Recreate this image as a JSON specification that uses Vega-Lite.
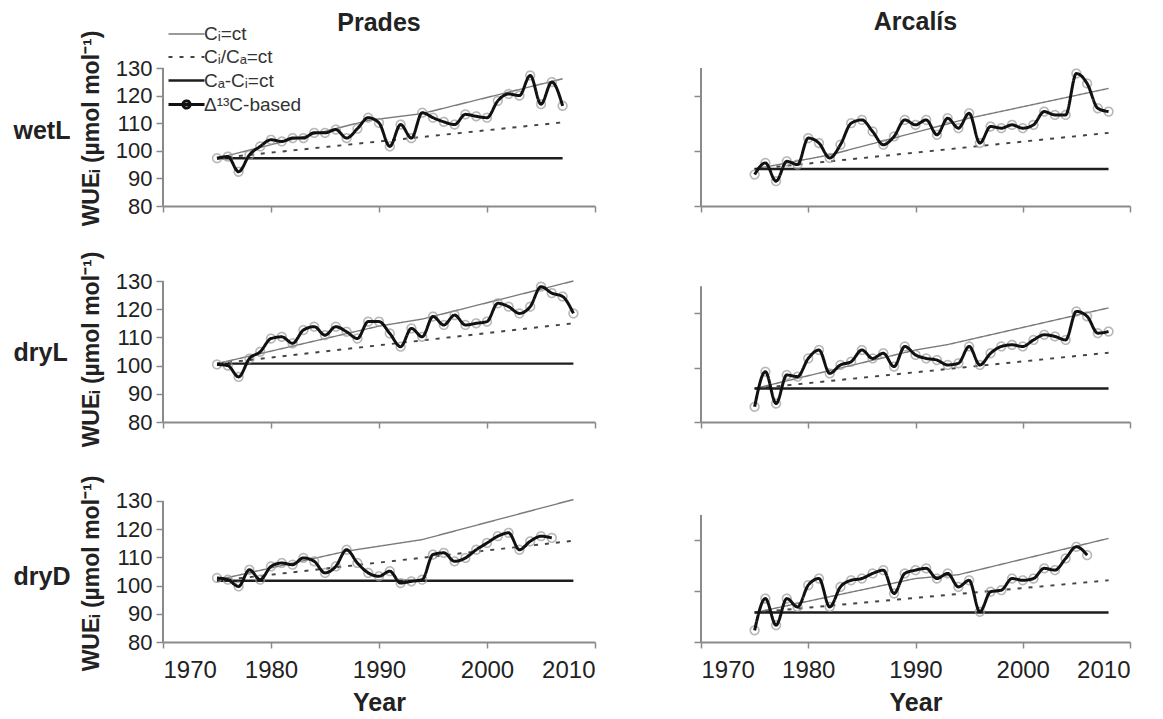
{
  "$schema": "https://vega.github.io/schema/vega-lite/v6.json",
  "background": "white",
  "padding": {"left": 13, "top": 9, "right": 2, "bottom": 2},
  "columns": 2,
  "bounds": "flush",
  "spacing": {"row": 75, "column": 106},
  "datasets": {
    "prades_wetL": [
      {"series": "Cᵢ=ct", "year": 1975, "wue": 97.3}, {"series": "Cᵢ=ct", "year": 1989, "wue": 111}, {"series": "Cᵢ=ct", "year": 1994, "wue": 113.5}, {"series": "Cᵢ=ct", "year": 2007, "wue": 126.1},
      {"series": "Cᵢ/Cₐ=ct", "year": 1975, "wue": 97.3}, {"series": "Cᵢ/Cₐ=ct", "year": 2007, "wue": 110.3},
      {"series": "Cₐ-Cᵢ=ct", "year": 1975, "wue": 97.3}, {"series": "Cₐ-Cᵢ=ct", "year": 2007, "wue": 97.3},
      {"series": "Δ¹³C-based", "year": 1975, "wue": 97.3}, {"series": "Δ¹³C-based", "year": 1976, "wue": 97.9}, {"series": "Δ¹³C-based", "year": 1977, "wue": 92.4}, {"series": "Δ¹³C-based", "year": 1978, "wue": 98.5},
      {"series": "Δ¹³C-based", "year": 1979, "wue": 101.6}, {"series": "Δ¹³C-based", "year": 1980, "wue": 104.0}, {"series": "Δ¹³C-based", "year": 1981, "wue": 103.4}, {"series": "Δ¹³C-based", "year": 1982, "wue": 104.6},
      {"series": "Δ¹³C-based", "year": 1983, "wue": 104.6}, {"series": "Δ¹³C-based", "year": 1984, "wue": 106.5}, {"series": "Δ¹³C-based", "year": 1985, "wue": 106.5}, {"series": "Δ¹³C-based", "year": 1986, "wue": 107.7},
      {"series": "Δ¹³C-based", "year": 1987, "wue": 104.6}, {"series": "Δ¹³C-based", "year": 1988, "wue": 108.0}, {"series": "Δ¹³C-based", "year": 1989, "wue": 112.0}, {"series": "Δ¹³C-based", "year": 1990, "wue": 110.1},
      {"series": "Δ¹³C-based", "year": 1991, "wue": 101.6}, {"series": "Δ¹³C-based", "year": 1992, "wue": 109.5}, {"series": "Δ¹³C-based", "year": 1993, "wue": 104.6}, {"series": "Δ¹³C-based", "year": 1994, "wue": 113.8},
      {"series": "Δ¹³C-based", "year": 1995, "wue": 112.0}, {"series": "Δ¹³C-based", "year": 1996, "wue": 110.5}, {"series": "Δ¹³C-based", "year": 1997, "wue": 109.5}, {"series": "Δ¹³C-based", "year": 1998, "wue": 113.2},
      {"series": "Δ¹³C-based", "year": 1999, "wue": 112.5}, {"series": "Δ¹³C-based", "year": 2000, "wue": 112.0}, {"series": "Δ¹³C-based", "year": 2001, "wue": 118.1}, {"series": "Δ¹³C-based", "year": 2002, "wue": 120.6},
      {"series": "Δ¹³C-based", "year": 2003, "wue": 120.0}, {"series": "Δ¹³C-based", "year": 2004, "wue": 127.3}, {"series": "Δ¹³C-based", "year": 2005, "wue": 116.9}, {"series": "Δ¹³C-based", "year": 2006, "wue": 124.9},
      {"series": "Δ¹³C-based", "year": 2007, "wue": 116.3}
    ],
    "arcalis_wetL": [
      {"series": "Cᵢ=ct", "year": 1975, "wue": 93.4}, {"series": "Cᵢ=ct", "year": 1982, "wue": 98.5}, {"series": "Cᵢ=ct", "year": 1995, "wue": 111.8}, {"series": "Cᵢ=ct", "year": 2008, "wue": 122.6},
      {"series": "Cᵢ/Cₐ=ct", "year": 1975, "wue": 93.4}, {"series": "Cᵢ/Cₐ=ct", "year": 2008, "wue": 106.5},
      {"series": "Cₐ-Cᵢ=ct", "year": 1975, "wue": 93.4}, {"series": "Cₐ-Cᵢ=ct", "year": 2008, "wue": 93.4},
      {"series": "Δ¹³C-based", "year": 1975, "wue": 91.4}, {"series": "Δ¹³C-based", "year": 1976, "wue": 95.6}, {"series": "Δ¹³C-based", "year": 1977, "wue": 89.0}, {"series": "Δ¹³C-based", "year": 1978, "wue": 96.2},
      {"series": "Δ¹³C-based", "year": 1979, "wue": 95.0}, {"series": "Δ¹³C-based", "year": 1980, "wue": 104.6}, {"series": "Δ¹³C-based", "year": 1981, "wue": 102.8}, {"series": "Δ¹³C-based", "year": 1982, "wue": 97.4},
      {"series": "Δ¹³C-based", "year": 1983, "wue": 102.2}, {"series": "Δ¹³C-based", "year": 1984, "wue": 110.0}, {"series": "Δ¹³C-based", "year": 1985, "wue": 111.2}, {"series": "Δ¹³C-based", "year": 1986, "wue": 107.0},
      {"series": "Δ¹³C-based", "year": 1987, "wue": 102.2}, {"series": "Δ¹³C-based", "year": 1988, "wue": 105.2}, {"series": "Δ¹³C-based", "year": 1989, "wue": 111.2}, {"series": "Δ¹³C-based", "year": 1990, "wue": 109.4},
      {"series": "Δ¹³C-based", "year": 1991, "wue": 111.2}, {"series": "Δ¹³C-based", "year": 1992, "wue": 105.8}, {"series": "Δ¹³C-based", "year": 1993, "wue": 111.8}, {"series": "Δ¹³C-based", "year": 1994, "wue": 108.2},
      {"series": "Δ¹³C-based", "year": 1995, "wue": 113.6}, {"series": "Δ¹³C-based", "year": 1996, "wue": 102.8}, {"series": "Δ¹³C-based", "year": 1997, "wue": 108.8}, {"series": "Δ¹³C-based", "year": 1998, "wue": 108.2},
      {"series": "Δ¹³C-based", "year": 1999, "wue": 109.4}, {"series": "Δ¹³C-based", "year": 2000, "wue": 108.2}, {"series": "Δ¹³C-based", "year": 2001, "wue": 109.4}, {"series": "Δ¹³C-based", "year": 2002, "wue": 114.2},
      {"series": "Δ¹³C-based", "year": 2003, "wue": 113.0}, {"series": "Δ¹³C-based", "year": 2004, "wue": 113.0}, {"series": "Δ¹³C-based", "year": 2005, "wue": 128.0}, {"series": "Δ¹³C-based", "year": 2006, "wue": 124.4},
      {"series": "Δ¹³C-based", "year": 2007, "wue": 115.4}, {"series": "Δ¹³C-based", "year": 2008, "wue": 114.2}
    ],
    "prades_dryL": [
      {"series": "Cᵢ=ct", "year": 1975, "wue": 100.7}, {"series": "Cᵢ=ct", "year": 1990, "wue": 114}, {"series": "Cᵢ=ct", "year": 1994, "wue": 116.5}, {"series": "Cᵢ=ct", "year": 2008, "wue": 130},
      {"series": "Cᵢ/Cₐ=ct", "year": 1975, "wue": 100.7}, {"series": "Cᵢ/Cₐ=ct", "year": 2008, "wue": 115},
      {"series": "Cₐ-Cᵢ=ct", "year": 1975, "wue": 100.7}, {"series": "Cₐ-Cᵢ=ct", "year": 2008, "wue": 100.7},
      {"series": "Δ¹³C-based", "year": 1975, "wue": 100.4}, {"series": "Δ¹³C-based", "year": 1976, "wue": 100.0}, {"series": "Δ¹³C-based", "year": 1977, "wue": 96.0}, {"series": "Δ¹³C-based", "year": 1978, "wue": 102.5},
      {"series": "Δ¹³C-based", "year": 1979, "wue": 104.9}, {"series": "Δ¹³C-based", "year": 1980, "wue": 109.6}, {"series": "Δ¹³C-based", "year": 1981, "wue": 110.2}, {"series": "Δ¹³C-based", "year": 1982, "wue": 107.9},
      {"series": "Δ¹³C-based", "year": 1983, "wue": 112.6}, {"series": "Δ¹³C-based", "year": 1984, "wue": 113.8}, {"series": "Δ¹³C-based", "year": 1985, "wue": 110.8}, {"series": "Δ¹³C-based", "year": 1986, "wue": 113.8},
      {"series": "Δ¹³C-based", "year": 1987, "wue": 112.0}, {"series": "Δ¹³C-based", "year": 1988, "wue": 109.6}, {"series": "Δ¹³C-based", "year": 1989, "wue": 115.6}, {"series": "Δ¹³C-based", "year": 1990, "wue": 115.6},
      {"series": "Δ¹³C-based", "year": 1991, "wue": 111.4}, {"series": "Δ¹³C-based", "year": 1992, "wue": 106.7}, {"series": "Δ¹³C-based", "year": 1993, "wue": 113.2}, {"series": "Δ¹³C-based", "year": 1994, "wue": 110.2},
      {"series": "Δ¹³C-based", "year": 1995, "wue": 117.4}, {"series": "Δ¹³C-based", "year": 1996, "wue": 114.4}, {"series": "Δ¹³C-based", "year": 1997, "wue": 117.9}, {"series": "Δ¹³C-based", "year": 1998, "wue": 114.4},
      {"series": "Δ¹³C-based", "year": 1999, "wue": 115.0}, {"series": "Δ¹³C-based", "year": 2000, "wue": 115.6}, {"series": "Δ¹³C-based", "year": 2001, "wue": 122.1}, {"series": "Δ¹³C-based", "year": 2002, "wue": 120.9},
      {"series": "Δ¹³C-based", "year": 2003, "wue": 118.5}, {"series": "Δ¹³C-based", "year": 2004, "wue": 120.9}, {"series": "Δ¹³C-based", "year": 2005, "wue": 128.0}, {"series": "Δ¹³C-based", "year": 2006, "wue": 125.7},
      {"series": "Δ¹³C-based", "year": 2007, "wue": 124.5}, {"series": "Δ¹³C-based", "year": 2008, "wue": 118.5}
    ],
    "arcalis_dryL": [
      {"series": "Cᵢ=ct", "year": 1975, "wue": 92.3}, {"series": "Cᵢ=ct", "year": 1990, "wue": 106.5}, {"series": "Cᵢ=ct", "year": 1993, "wue": 108.5}, {"series": "Cᵢ=ct", "year": 2008, "wue": 122},
      {"series": "Cᵢ/Cₐ=ct", "year": 1975, "wue": 92.3}, {"series": "Cᵢ/Cₐ=ct", "year": 2008, "wue": 105.5},
      {"series": "Cₐ-Cᵢ=ct", "year": 1975, "wue": 92.3}, {"series": "Cₐ-Cᵢ=ct", "year": 2008, "wue": 92.3},
      {"series": "Δ¹³C-based", "year": 1975, "wue": 85.6}, {"series": "Δ¹³C-based", "year": 1976, "wue": 98.5}, {"series": "Δ¹³C-based", "year": 1977, "wue": 86.8}, {"series": "Δ¹³C-based", "year": 1978, "wue": 97.3},
      {"series": "Δ¹³C-based", "year": 1979, "wue": 96.7}, {"series": "Δ¹³C-based", "year": 1980, "wue": 103.4}, {"series": "Δ¹³C-based", "year": 1981, "wue": 106.5}, {"series": "Δ¹³C-based", "year": 1982, "wue": 97.9},
      {"series": "Δ¹³C-based", "year": 1983, "wue": 101.0}, {"series": "Δ¹³C-based", "year": 1984, "wue": 102.2}, {"series": "Δ¹³C-based", "year": 1985, "wue": 106.5}, {"series": "Δ¹³C-based", "year": 1986, "wue": 103.4},
      {"series": "Δ¹³C-based", "year": 1987, "wue": 105.3}, {"series": "Δ¹³C-based", "year": 1988, "wue": 100.4}, {"series": "Δ¹³C-based", "year": 1989, "wue": 107.8}, {"series": "Δ¹³C-based", "year": 1990, "wue": 104.7},
      {"series": "Δ¹³C-based", "year": 1991, "wue": 103.4}, {"series": "Δ¹³C-based", "year": 1992, "wue": 102.8}, {"series": "Δ¹³C-based", "year": 1993, "wue": 101.0}, {"series": "Δ¹³C-based", "year": 1994, "wue": 101.6},
      {"series": "Δ¹³C-based", "year": 1995, "wue": 107.8}, {"series": "Δ¹³C-based", "year": 1996, "wue": 101.0}, {"series": "Δ¹³C-based", "year": 1997, "wue": 105.3}, {"series": "Δ¹³C-based", "year": 1998, "wue": 107.8},
      {"series": "Δ¹³C-based", "year": 1999, "wue": 108.4}, {"series": "Δ¹³C-based", "year": 2000, "wue": 107.8}, {"series": "Δ¹³C-based", "year": 2001, "wue": 110.2}, {"series": "Δ¹³C-based", "year": 2002, "wue": 112.1},
      {"series": "Δ¹³C-based", "year": 2003, "wue": 111.5}, {"series": "Δ¹³C-based", "year": 2004, "wue": 110.2}, {"series": "Δ¹³C-based", "year": 2005, "wue": 120.7}, {"series": "Δ¹³C-based", "year": 2006, "wue": 118.9},
      {"series": "Δ¹³C-based", "year": 2007, "wue": 112.7}, {"series": "Δ¹³C-based", "year": 2008, "wue": 113.3}
    ],
    "prades_dryD": [
      {"series": "Cᵢ=ct", "year": 1975, "wue": 102.0}, {"series": "Cᵢ=ct", "year": 1987, "wue": 112.2}, {"series": "Cᵢ=ct", "year": 1994, "wue": 116.3}, {"series": "Cᵢ=ct", "year": 2008, "wue": 130.5},
      {"series": "Cᵢ/Cₐ=ct", "year": 1975, "wue": 101.7}, {"series": "Cᵢ/Cₐ=ct", "year": 2008, "wue": 115.9},
      {"series": "Cₐ-Cᵢ=ct", "year": 1975, "wue": 101.7}, {"series": "Cₐ-Cᵢ=ct", "year": 2008, "wue": 101.7},
      {"series": "Δ¹³C-based", "year": 1975, "wue": 102.7}, {"series": "Δ¹³C-based", "year": 1976, "wue": 102.1}, {"series": "Δ¹³C-based", "year": 1977, "wue": 99.7}, {"series": "Δ¹³C-based", "year": 1978, "wue": 105.6},
      {"series": "Δ¹³C-based", "year": 1979, "wue": 102.1}, {"series": "Δ¹³C-based", "year": 1980, "wue": 106.8}, {"series": "Δ¹³C-based", "year": 1981, "wue": 108.0}, {"series": "Δ¹³C-based", "year": 1982, "wue": 107.4},
      {"series": "Δ¹³C-based", "year": 1983, "wue": 109.8}, {"series": "Δ¹³C-based", "year": 1984, "wue": 108.6}, {"series": "Δ¹³C-based", "year": 1985, "wue": 104.5}, {"series": "Δ¹³C-based", "year": 1986, "wue": 106.8},
      {"series": "Δ¹³C-based", "year": 1987, "wue": 112.7}, {"series": "Δ¹³C-based", "year": 1988, "wue": 108.0}, {"series": "Δ¹³C-based", "year": 1989, "wue": 104.5}, {"series": "Δ¹³C-based", "year": 1990, "wue": 103.3},
      {"series": "Δ¹³C-based", "year": 1991, "wue": 105.1}, {"series": "Δ¹³C-based", "year": 1992, "wue": 100.9}, {"series": "Δ¹³C-based", "year": 1993, "wue": 101.5}, {"series": "Δ¹³C-based", "year": 1994, "wue": 102.1},
      {"series": "Δ¹³C-based", "year": 1995, "wue": 111.0}, {"series": "Δ¹³C-based", "year": 1996, "wue": 111.6}, {"series": "Δ¹³C-based", "year": 1997, "wue": 108.6}, {"series": "Δ¹³C-based", "year": 1998, "wue": 109.8},
      {"series": "Δ¹³C-based", "year": 1999, "wue": 112.7}, {"series": "Δ¹³C-based", "year": 2000, "wue": 115.1}, {"series": "Δ¹³C-based", "year": 2001, "wue": 117.5}, {"series": "Δ¹³C-based", "year": 2002, "wue": 118.7},
      {"series": "Δ¹³C-based", "year": 2003, "wue": 112.7}, {"series": "Δ¹³C-based", "year": 2004, "wue": 115.7}, {"series": "Δ¹³C-based", "year": 2005, "wue": 117.5}, {"series": "Δ¹³C-based", "year": 2006, "wue": 116.9}
    ],
    "arcalis_dryD": [
      {"series": "Cᵢ=ct", "year": 1975, "wue": 91.6}, {"series": "Cᵢ=ct", "year": 1990, "wue": 105}, {"series": "Cᵢ=ct", "year": 1994, "wue": 106.5}, {"series": "Cᵢ=ct", "year": 2008, "wue": 120.8},
      {"series": "Cᵢ/Cₐ=ct", "year": 1975, "wue": 91.6}, {"series": "Cᵢ/Cₐ=ct", "year": 2008, "wue": 104.3},
      {"series": "Cₐ-Cᵢ=ct", "year": 1975, "wue": 91.6}, {"series": "Cₐ-Cᵢ=ct", "year": 2008, "wue": 91.6},
      {"series": "Δ¹³C-based", "year": 1975, "wue": 84.6}, {"series": "Δ¹³C-based", "year": 1976, "wue": 97.1}, {"series": "Δ¹³C-based", "year": 1977, "wue": 86.6}, {"series": "Δ¹³C-based", "year": 1978, "wue": 97.1},
      {"series": "Δ¹³C-based", "year": 1979, "wue": 93.8}, {"series": "Δ¹³C-based", "year": 1980, "wue": 102.4}, {"series": "Δ¹³C-based", "year": 1981, "wue": 105.0}, {"series": "Δ¹³C-based", "year": 1982, "wue": 93.8},
      {"series": "Δ¹³C-based", "year": 1983, "wue": 101.7}, {"series": "Δ¹³C-based", "year": 1984, "wue": 104.3}, {"series": "Δ¹³C-based", "year": 1985, "wue": 105.0}, {"series": "Δ¹³C-based", "year": 1986, "wue": 107.0},
      {"series": "Δ¹³C-based", "year": 1987, "wue": 108.3}, {"series": "Δ¹³C-based", "year": 1988, "wue": 99.1}, {"series": "Δ¹³C-based", "year": 1989, "wue": 107.0}, {"series": "Δ¹³C-based", "year": 1990, "wue": 108.3},
      {"series": "Δ¹³C-based", "year": 1991, "wue": 109.0}, {"series": "Δ¹³C-based", "year": 1992, "wue": 105.0}, {"series": "Δ¹³C-based", "year": 1993, "wue": 107.0}, {"series": "Δ¹³C-based", "year": 1994, "wue": 101.7},
      {"series": "Δ¹³C-based", "year": 1995, "wue": 104.3}, {"series": "Δ¹³C-based", "year": 1996, "wue": 91.9}, {"series": "Δ¹³C-based", "year": 1997, "wue": 99.8}, {"series": "Δ¹³C-based", "year": 1998, "wue": 100.4},
      {"series": "Δ¹³C-based", "year": 1999, "wue": 105.0}, {"series": "Δ¹³C-based", "year": 2000, "wue": 104.3}, {"series": "Δ¹³C-based", "year": 2001, "wue": 105.0}, {"series": "Δ¹³C-based", "year": 2002, "wue": 109.0},
      {"series": "Δ¹³C-based", "year": 2003, "wue": 108.3}, {"series": "Δ¹³C-based", "year": 2004, "wue": 112.9}, {"series": "Δ¹³C-based", "year": 2005, "wue": 117.5}, {"series": "Δ¹³C-based", "year": 2006, "wue": 114.2}
    ]
  },
  "concat": [
    {
      "width": 432, "height": 138,
      "title": {"text": "Prades", "frame": "group", "anchor": "middle", "offset": -12, "fontSize": 25, "fontWeight": "bold", "color": "#222"},
      "layer": [
        {
          "data": {"name": "prades_wetL"},
          "encoding": {
            "x": {"field": "year", "type": "quantitative", "scale": {"domain": [1970, 2010], "nice": false, "zero": false}, "axis": {"values": [1970, 1980, 1990, 2000, 2010], "labels": false, "title": null, "tickSize": 6}},
            "y": {"field": "wue", "type": "quantitative", "scale": {"domain": [80, 130], "nice": false, "zero": false}, "axis": {"values": [80, 90, 100, 110, 120, 130], "domain": false, "labelPadding": 4, "title": "WUEᵢ (µmol mol⁻¹)", "titleFontSize": 23, "titleFontWeight": "bold", "titleAngle": -90, "titleX": -60, "titleY": 60, "titleAlign": "center", "titleBaseline": "bottom"}},
            "color": {"field": "series", "type": "nominal", "scale": {"domain": ["Cᵢ=ct", "Cᵢ/Cₐ=ct", "Cₐ-Cᵢ=ct", "Δ¹³C-based"], "range": ["#7a7a7a", "#444444", "#1e1e1e", "#111111"]},
              "legend": {"orient": "none", "legendX": 4, "legendY": -44, "title": null, "labelFontSize": 19, "labelColor": "#333", "labelFont": "Liberation Sans", "symbolSize": 324, "symbolType": "M-1,0H3", "labelOffset": 16, "rowPadding": 3, "padding": 0,
                "encode": {"symbols": {"update": {"shape": {"signal": "datum.value === 'Δ¹³C-based' ? 'M-1,0H3M1.4,0A0.4,0.4 0 1,1 0.6,0A0.4,0.4 0 1,1 1.4,0' : 'M-1,0H3'"}}}}}},
            "strokeDash": {"field": "series", "type": "nominal", "scale": {"domain": ["Cᵢ=ct", "Cᵢ/Cₐ=ct", "Cₐ-Cᵢ=ct", "Δ¹³C-based"], "range": [[1, 0], [4, 7], [1, 0], [1, 0]]}},
            "strokeWidth": {"field": "series", "type": "nominal", "scale": {"domain": ["Cᵢ=ct", "Cᵢ/Cₐ=ct", "Cₐ-Cᵢ=ct", "Δ¹³C-based"], "range": [1.4, 3, 2.4, 3.5]}}
          },
          "layer": [
            {"transform": [{"filter": {"field": "series", "oneOf": ["Cᵢ=ct", "Cᵢ/Cₐ=ct", "Cₐ-Cᵢ=ct"]}}], "mark": {"type": "line"}},
            {"transform": [{"filter": {"field": "series", "equal": "Δ¹³C-based"}}], "mark": {"type": "point", "filled": false, "size": 75}, "encoding": {"color": {"value": "#9a9a9a"}, "strokeWidth": {"value": 1.6}, "strokeDash": {"value": [1, 0]}}},
            {"transform": [{"filter": {"field": "series", "equal": "Δ¹³C-based"}}], "mark": {"type": "line", "interpolate": "monotone"}}
          ]
        },
        {
          "data": {"values": [{}]},
          "mark": {"type": "rule", "color": "#8a8a8a", "strokeWidth": 2},
          "encoding": {
            "x": {"datum": 1970},
            "y": {"datum": 80, "scale": {"domain": [80, 130], "nice": false, "zero": false}, "axis": {"orient": "left", "labels": false, "ticks": false, "domain": false, "title": "wetL", "titleAngle": 0, "titleAlign": "left", "titleBaseline": "middle", "titleX": -150, "titleY": 62, "titleFontSize": 25, "titleFontWeight": "bold"}},
            "y2": {"datum": 130}
          }
        }
      ],
      "resolve": {"scale": {"y": "independent"}}
    },
    {
      "width": 429, "height": 138,
      "title": {"text": "Arcalís", "frame": "group", "anchor": "middle", "offset": 31, "fontSize": 25, "fontWeight": "bold", "color": "#222"},
      "layer": [
        {
          "data": {"name": "arcalis_wetL"},
          "encoding": {
            "x": {"field": "year", "type": "quantitative", "scale": {"domain": [1970, 2010], "nice": false, "zero": false}, "axis": {"values": [1970, 1980, 1990, 2000, 2010], "labels": false, "title": null, "tickSize": 6}},
            "y": {"field": "wue", "type": "quantitative", "scale": {"domain": [80, 130], "nice": false, "zero": false}, "axis": {"values": [80, 90, 100, 110, 120, 130], "domain": false, "labels": false, "title": null}},
            "color": {"field": "series", "type": "nominal", "scale": {"domain": ["Cᵢ=ct", "Cᵢ/Cₐ=ct", "Cₐ-Cᵢ=ct", "Δ¹³C-based"], "range": ["#7a7a7a", "#444444", "#1e1e1e", "#111111"]}, "legend": null},
            "strokeDash": {"field": "series", "type": "nominal", "scale": {"domain": ["Cᵢ=ct", "Cᵢ/Cₐ=ct", "Cₐ-Cᵢ=ct", "Δ¹³C-based"], "range": [[1, 0], [4, 7], [1, 0], [1, 0]]}, "legend": null},
            "strokeWidth": {"field": "series", "type": "nominal", "scale": {"domain": ["Cᵢ=ct", "Cᵢ/Cₐ=ct", "Cₐ-Cᵢ=ct", "Δ¹³C-based"], "range": [1.4, 3, 2.4, 3.5]}, "legend": null}
          },
          "layer": [
            {"transform": [{"filter": {"field": "series", "oneOf": ["Cᵢ=ct", "Cᵢ/Cₐ=ct", "Cₐ-Cᵢ=ct"]}}], "mark": {"type": "line"}},
            {"transform": [{"filter": {"field": "series", "equal": "Δ¹³C-based"}}], "mark": {"type": "point", "filled": false, "size": 75}, "encoding": {"color": {"value": "#9a9a9a"}, "strokeWidth": {"value": 1.6}, "strokeDash": {"value": [1, 0]}}},
            {"transform": [{"filter": {"field": "series", "equal": "Δ¹³C-based"}}], "mark": {"type": "line", "interpolate": "monotone"}}
          ]
        },
        {
          "data": {"values": [{}]},
          "mark": {"type": "rule", "color": "#8a8a8a", "strokeWidth": 2},
          "encoding": {"x": {"datum": 1970}, "y": {"datum": 80}, "y2": {"datum": 130}}
        }
      ]
    },
    {
      "width": 432, "height": 141,
      "layer": [
        {
          "data": {"name": "prades_dryL"},
          "encoding": {
            "x": {"field": "year", "type": "quantitative", "scale": {"domain": [1970, 2010], "nice": false, "zero": false}, "axis": {"values": [1970, 1980, 1990, 2000, 2010], "labels": false, "title": null, "tickSize": 6}},
            "y": {"field": "wue", "type": "quantitative", "scale": {"domain": [80, 130], "nice": false, "zero": false}, "axis": {"values": [80, 90, 100, 110, 120, 130], "domain": false, "labelPadding": 4, "title": "WUEᵢ (µmol mol⁻¹)", "titleFontSize": 23, "titleFontWeight": "bold", "titleAngle": -90, "titleX": -60, "titleY": 68, "titleAlign": "center", "titleBaseline": "bottom"}},
            "color": {"field": "series", "type": "nominal", "scale": {"domain": ["Cᵢ=ct", "Cᵢ/Cₐ=ct", "Cₐ-Cᵢ=ct", "Δ¹³C-based"], "range": ["#7a7a7a", "#444444", "#1e1e1e", "#111111"]}, "legend": null},
            "strokeDash": {"field": "series", "type": "nominal", "scale": {"domain": ["Cᵢ=ct", "Cᵢ/Cₐ=ct", "Cₐ-Cᵢ=ct", "Δ¹³C-based"], "range": [[1, 0], [4, 7], [1, 0], [1, 0]]}, "legend": null},
            "strokeWidth": {"field": "series", "type": "nominal", "scale": {"domain": ["Cᵢ=ct", "Cᵢ/Cₐ=ct", "Cₐ-Cᵢ=ct", "Δ¹³C-based"], "range": [1.4, 3, 2.4, 3.5]}, "legend": null}
          },
          "layer": [
            {"transform": [{"filter": {"field": "series", "oneOf": ["Cᵢ=ct", "Cᵢ/Cₐ=ct", "Cₐ-Cᵢ=ct"]}}], "mark": {"type": "line"}},
            {"transform": [{"filter": {"field": "series", "equal": "Δ¹³C-based"}}], "mark": {"type": "point", "filled": false, "size": 75}, "encoding": {"color": {"value": "#9a9a9a"}, "strokeWidth": {"value": 1.6}, "strokeDash": {"value": [1, 0]}}},
            {"transform": [{"filter": {"field": "series", "equal": "Δ¹³C-based"}}], "mark": {"type": "line", "interpolate": "monotone"}}
          ]
        },
        {
          "data": {"values": [{}]},
          "mark": {"type": "rule", "color": "#8a8a8a", "strokeWidth": 2},
          "encoding": {
            "x": {"datum": 1970},
            "y": {"datum": 80, "scale": {"domain": [80, 130], "nice": false, "zero": false}, "axis": {"orient": "left", "labels": false, "ticks": false, "domain": false, "title": "dryL", "titleAngle": 0, "titleAlign": "left", "titleBaseline": "middle", "titleX": -150, "titleY": 71, "titleFontSize": 25, "titleFontWeight": "bold"}},
            "y2": {"datum": 130}
          }
        }
      ],
      "resolve": {"scale": {"y": "independent"}}
    },
    {
      "width": 429, "height": 141,
      "layer": [
        {
          "data": {"name": "arcalis_dryL"},
          "encoding": {
            "x": {"field": "year", "type": "quantitative", "scale": {"domain": [1970, 2010], "nice": false, "zero": false}, "axis": {"values": [1970, 1980, 1990, 2000, 2010], "labels": false, "title": null, "tickSize": 6}},
            "y": {"field": "wue", "type": "quantitative", "scale": {"domain": [80, 131.9], "nice": false, "zero": false}, "axis": {"values": [80, 90, 100, 110, 120, 130], "domain": false, "labels": false, "title": null}},
            "color": {"field": "series", "type": "nominal", "scale": {"domain": ["Cᵢ=ct", "Cᵢ/Cₐ=ct", "Cₐ-Cᵢ=ct", "Δ¹³C-based"], "range": ["#7a7a7a", "#444444", "#1e1e1e", "#111111"]}, "legend": null},
            "strokeDash": {"field": "series", "type": "nominal", "scale": {"domain": ["Cᵢ=ct", "Cᵢ/Cₐ=ct", "Cₐ-Cᵢ=ct", "Δ¹³C-based"], "range": [[1, 0], [4, 7], [1, 0], [1, 0]]}, "legend": null},
            "strokeWidth": {"field": "series", "type": "nominal", "scale": {"domain": ["Cᵢ=ct", "Cᵢ/Cₐ=ct", "Cₐ-Cᵢ=ct", "Δ¹³C-based"], "range": [1.4, 3, 2.4, 3.5]}, "legend": null}
          },
          "layer": [
            {"transform": [{"filter": {"field": "series", "oneOf": ["Cᵢ=ct", "Cᵢ/Cₐ=ct", "Cₐ-Cᵢ=ct"]}}], "mark": {"type": "line"}},
            {"transform": [{"filter": {"field": "series", "equal": "Δ¹³C-based"}}], "mark": {"type": "point", "filled": false, "size": 75}, "encoding": {"color": {"value": "#9a9a9a"}, "strokeWidth": {"value": 1.6}, "strokeDash": {"value": [1, 0]}}},
            {"transform": [{"filter": {"field": "series", "equal": "Δ¹³C-based"}}], "mark": {"type": "line", "interpolate": "monotone"}}
          ]
        },
        {
          "data": {"values": [{}]},
          "mark": {"type": "rule", "color": "#8a8a8a", "strokeWidth": 2},
          "encoding": {"x": {"datum": 1970}, "y": {"datum": 80}, "y2": {"datum": 130}}
        }
      ]
    },
    {
      "width": 432, "height": 145,
      "layer": [
        {
          "data": {"name": "prades_dryD"},
          "encoding": {
            "x": {"field": "year", "type": "quantitative", "scale": {"domain": [1970, 2010], "nice": false, "zero": false}, "axis": {"values": [1970, 1980, 1990, 2000, 2010], "format": "d", "labelFontSize": 24, "labelPadding": 10, "labelDx": 5, "title": "Year", "titleFontSize": 25, "titleFontWeight": "bold", "titlePadding": 8, "tickSize": 6}},
            "y": {"field": "wue", "type": "quantitative", "scale": {"domain": [80, 131.4], "nice": false, "zero": false}, "axis": {"values": [80, 90, 100, 110, 120, 130], "domain": false, "labelPadding": 4, "title": "WUEᵢ (µmol mol⁻¹)", "titleFontSize": 23, "titleFontWeight": "bold", "titleAngle": -90, "titleX": -60, "titleY": 76, "titleAlign": "center", "titleBaseline": "bottom"}},
            "color": {"field": "series", "type": "nominal", "scale": {"domain": ["Cᵢ=ct", "Cᵢ/Cₐ=ct", "Cₐ-Cᵢ=ct", "Δ¹³C-based"], "range": ["#7a7a7a", "#444444", "#1e1e1e", "#111111"]}, "legend": null},
            "strokeDash": {"field": "series", "type": "nominal", "scale": {"domain": ["Cᵢ=ct", "Cᵢ/Cₐ=ct", "Cₐ-Cᵢ=ct", "Δ¹³C-based"], "range": [[1, 0], [4, 7], [1, 0], [1, 0]]}, "legend": null},
            "strokeWidth": {"field": "series", "type": "nominal", "scale": {"domain": ["Cᵢ=ct", "Cᵢ/Cₐ=ct", "Cₐ-Cᵢ=ct", "Δ¹³C-based"], "range": [1.4, 3, 2.4, 3.5]}, "legend": null}
          },
          "layer": [
            {"transform": [{"filter": {"field": "series", "oneOf": ["Cᵢ=ct", "Cᵢ/Cₐ=ct", "Cₐ-Cᵢ=ct"]}}], "mark": {"type": "line"}},
            {"transform": [{"filter": {"field": "series", "equal": "Δ¹³C-based"}}], "mark": {"type": "point", "filled": false, "size": 75}, "encoding": {"color": {"value": "#9a9a9a"}, "strokeWidth": {"value": 1.6}, "strokeDash": {"value": [1, 0]}}},
            {"transform": [{"filter": {"field": "series", "equal": "Δ¹³C-based"}}], "mark": {"type": "line", "interpolate": "monotone"}}
          ]
        },
        {
          "data": {"values": [{}]},
          "mark": {"type": "rule", "color": "#8a8a8a", "strokeWidth": 2},
          "encoding": {
            "x": {"datum": 1970},
            "y": {"datum": 80, "scale": {"domain": [80, 131.4], "nice": false, "zero": false}, "axis": {"orient": "left", "labels": false, "ticks": false, "domain": false, "title": "dryD", "titleAngle": 0, "titleAlign": "left", "titleBaseline": "middle", "titleX": -150, "titleY": 79, "titleFontSize": 25, "titleFontWeight": "bold"}},
            "y2": {"datum": 130}
          }
        }
      ],
      "resolve": {"scale": {"y": "independent"}}
    },
    {
      "width": 429, "height": 145,
      "layer": [
        {
          "data": {"name": "arcalis_dryD"},
          "encoding": {
            "x": {"field": "year", "type": "quantitative", "scale": {"domain": [1970, 2010], "nice": false, "zero": false}, "axis": {"values": [1970, 1980, 1990, 2000, 2010], "format": "d", "labelFontSize": 24, "labelPadding": 10, "labelDx": 5, "title": "Year", "titleFontSize": 25, "titleFontWeight": "bold", "titlePadding": 8, "tickSize": 6}},
            "y": {"field": "wue", "type": "quantitative", "scale": {"domain": [80, 137.1], "nice": false, "zero": false}, "axis": {"values": [80, 90, 100, 110, 120, 130], "domain": false, "labels": false, "title": null}},
            "color": {"field": "series", "type": "nominal", "scale": {"domain": ["Cᵢ=ct", "Cᵢ/Cₐ=ct", "Cₐ-Cᵢ=ct", "Δ¹³C-based"], "range": ["#7a7a7a", "#444444", "#1e1e1e", "#111111"]}, "legend": null},
            "strokeDash": {"field": "series", "type": "nominal", "scale": {"domain": ["Cᵢ=ct", "Cᵢ/Cₐ=ct", "Cₐ-Cᵢ=ct", "Δ¹³C-based"], "range": [[1, 0], [4, 7], [1, 0], [1, 0]]}, "legend": null},
            "strokeWidth": {"field": "series", "type": "nominal", "scale": {"domain": ["Cᵢ=ct", "Cᵢ/Cₐ=ct", "Cₐ-Cᵢ=ct", "Δ¹³C-based"], "range": [1.4, 3, 2.4, 3.5]}, "legend": null}
          },
          "layer": [
            {"transform": [{"filter": {"field": "series", "oneOf": ["Cᵢ=ct", "Cᵢ/Cₐ=ct", "Cₐ-Cᵢ=ct"]}}], "mark": {"type": "line"}},
            {"transform": [{"filter": {"field": "series", "equal": "Δ¹³C-based"}}], "mark": {"type": "point", "filled": false, "size": 75}, "encoding": {"color": {"value": "#9a9a9a"}, "strokeWidth": {"value": 1.6}, "strokeDash": {"value": [1, 0]}}},
            {"transform": [{"filter": {"field": "series", "equal": "Δ¹³C-based"}}], "mark": {"type": "line", "interpolate": "monotone"}}
          ]
        },
        {
          "data": {"values": [{}]},
          "mark": {"type": "rule", "color": "#8a8a8a", "strokeWidth": 2},
          "encoding": {"x": {"datum": 1970}, "y": {"datum": 80}, "y2": {"datum": 130}}
        }
      ]
    }
  ],
  "resolve": {"scale": {"color": "independent", "strokeDash": "independent", "strokeWidth": "independent"}},
  "config": {
    "view": {"stroke": null},
    "font": "Liberation Sans",
    "axis": {"domainColor": "#8a8a8a", "domainWidth": 2, "tickColor": "#8a8a8a", "tickWidth": 1.5, "tickSize": 7, "grid": false, "labelFont": "Liberation Sans", "labelFontSize": 22, "labelColor": "#222", "titleFont": "Liberation Sans", "titleColor": "#222"}
  }
}
